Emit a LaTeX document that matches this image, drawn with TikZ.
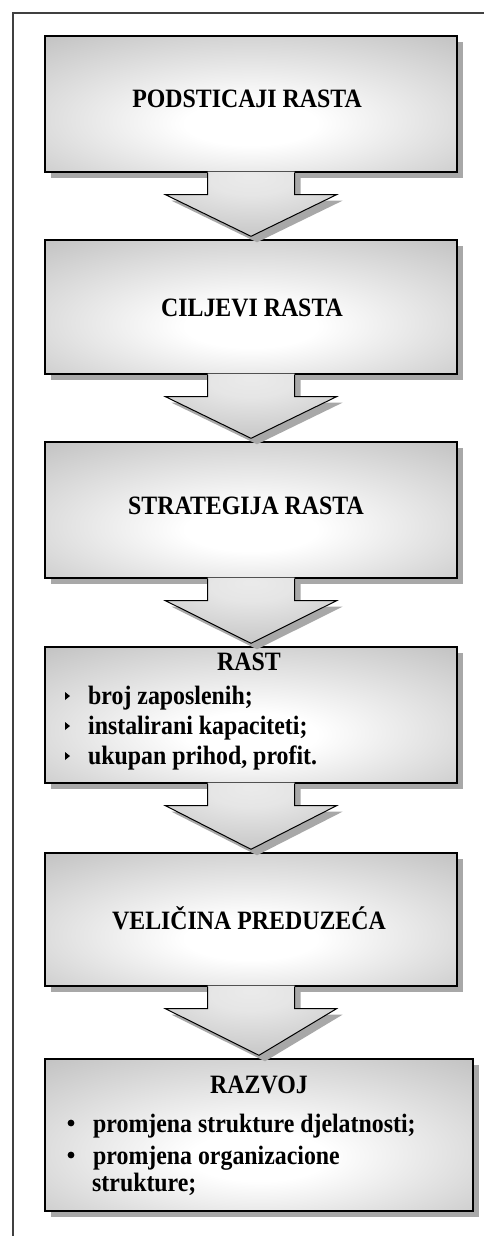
\documentclass[tikz,border=0pt]{standalone}
\usepackage{fontspec}
\usepackage{graphicx}
\setmainfont{Liberation Serif}
\usetikzlibrary{calc,shadows}

\definecolor{shadegray}{gray}{0.72}
\definecolor{shadowgray}{gray}{0.66}
\definecolor{framegray}{gray}{0.25}

% soft grey-to-white fill used on the boxes and the block arrows
\pgfdeclareradialshading{boxshade}{\pgfpoint{0bp}{-8bp}}{%
  color(0bp)=(white); color(8bp)=(white); color(44bp)=(shadegray); color(80bp)=(shadegray)}
\pgfdeclareradialshading{arrowshade}{\pgfpoint{0bp}{22bp}}{%
  color(0bp)=(white!92!black); color(12bp)=(white!90!black); color(50bp)=(shadegray); color(80bp)=(shadegray)}

% tall, slightly narrowed bold lettering
\newcommand\narrowtext[1]{\scalebox{0.9}[1]{#1}}

\tikzset{
  stagebox/.style={draw=black, line width=1.4pt, shading=boxshade,
    general shadow={shadow xshift=6pt, shadow yshift=-6pt, fill=shadowgray},
    inner sep=0pt, minimum width=412pt},
  blockarrow/.style={shading=arrowshade,
    general shadow={shadow xshift=6pt, shadow yshift=-6pt, fill=shadowgray}},
  arrowedge/.style={draw=black, line width=1pt, line join=miter},
  title/.style={inner sep=0pt, anchor=base, font=\fontsize{26.5}{29}\selectfont\bfseries},
  item/.style={inner sep=0pt, anchor=base west, font=\fontsize{26.5}{29}\selectfont\bfseries},
}

% block arrow hanging below box #1 and pointing at box #2
\newcommand\stagearrow[2]{%
  \path[blockarrow] ($(#1.south)+(-43.5,-1)$) -- ($(#1.south)+(-43.5,22)$)
     -- ($(#1.south)+(-85.5,22)$) -- ($(#2.north)+(0,-3)$)
     -- ($(#1.south)+(85.5,22)$) -- ($(#1.south)+(43.5,22)$)
     -- ($(#1.south)+(43.5,-1)$) -- cycle;
  \draw[arrowedge] ($(#1.south)+(-43.5,0)$) -- ($(#1.south)+(-43.5,22)$)
     -- ($(#1.south)+(-85.5,22)$) -- ($(#2.north)+(0,-3)$)
     -- ($(#1.south)+(85.5,22)$) -- ($(#1.south)+(43.5,22)$)
     -- ($(#1.south)+(43.5,0)$);
}

\begin{document}
\begin{tikzpicture}[x=1pt, y=-1pt]
\useasboundingbox (0,0) rectangle (484,1236);

% page frame (only top and left edges show)
\draw[framegray, line width=1.5pt] (13,1236) -- (13,13) -- (484,13);

% stages and arrows
\node[stagebox, minimum height=136pt] (b1) at (251,104) {};
\node[stagebox, minimum height=134pt] (b2) at (251,307) {};
\node[stagebox, minimum height=136pt] (b3) at (251,510) {};
\node[stagebox, minimum height=136pt] (b4) at (251,715) {};
\node[stagebox, minimum height=133pt] (b5) at (251,919.5) {};
\node[stagebox, minimum height=152pt, minimum width=428pt] (b6) at (259,1135) {};

\stagearrow{b1}{b2}
\stagearrow{b2}{b3}
\stagearrow{b3}{b4}
\stagearrow{b4}{b5}
\stagearrow{b5}{b6}

% titles
\node[title] (t1) at (247,108) {\narrowtext{PODSTICAJI RASTA}};
\node[title] (t2) at (252,316) {\narrowtext{CILJEVI RASTA}};
\node[title] (t3) at (246,514) {\narrowtext{STRATEGIJA RASTA}};
\node[title] (t4) at (249,670) {\narrowtext{RAST}};
\node[title] (t5) at (249,929) {\narrowtext{VELIČINA PREDUZEĆA}};
\node[title] (t6) at (259,1093) {\narrowtext{RAZVOJ}};

% growth indicators
\node[item] (r1) at (88,704) {\narrowtext{broj zaposlenih;}};
\node[item] (r2) at (88,734) {\narrowtext{instalirani kapaciteti;}};
\node[item] (r3) at (88,764) {\narrowtext{ukupan prihod, profit.}};
\foreach \n in {r1,r2,r3}
  \fill ($(\n.base west)+(-23,-12)$) -- ($(\n.base west)+(-18,-8)$) -- ($(\n.base west)+(-23,-4)$) -- cycle;

% development items
\node[item] (d1) at (93,1132) {\narrowtext{promjena strukture djelatnosti;}};
\node[item] (d2) at (93,1164) {\narrowtext{promjena organizacione}};
\node[item] (d3) at (92,1191) {\narrowtext{strukture;}};
\foreach \n in {d1,d2}
  \fill ($(\n.base west)+(-22,-9)$) circle (3.4);
\end{tikzpicture}
\end{document}
